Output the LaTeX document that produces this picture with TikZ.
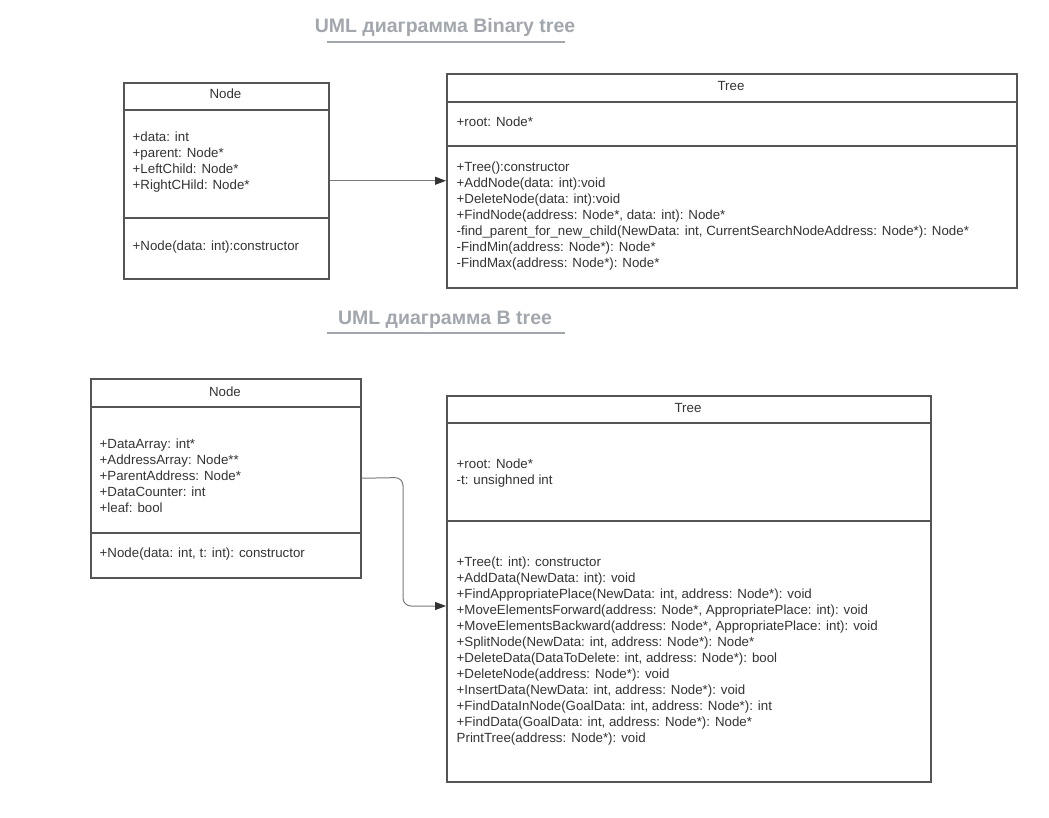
\documentclass[tikz,border=0pt]{standalone}
\usepackage{fontspec}
\setmainfont{Liberation Sans}
\usetikzlibrary{arrows.meta}
\definecolor{boxline}{HTML}{555555}
\definecolor{txt}{HTML}{333333}
\definecolor{ttl}{HTML}{A2A6AD}
\definecolor{conn}{HTML}{7A7A7A}
\begin{document}
\begin{tikzpicture}[x=1pt,y=-1pt,
  umlbox/.style={draw=boxline, line width=1.5pt, rectangle, inner sep=0pt, anchor=north west},
  divider/.style={draw=boxline, line width=1.5pt},
  txtline/.style={anchor=base west, inner sep=0pt, text=txt, font=\fontsize{13.3}{16}\selectfont},
  titletxt/.style={anchor=center, inner sep=0pt, text=txt, font=\fontsize{13.3}{16}\selectfont},
  heading/.style={anchor=center, inner sep=0pt, text=ttl, font=\fontsize{19.5}{22}\selectfont\bfseries},
  underline/.style={draw=ttl, line width=1.8pt},
  conn/.style={draw=conn, line width=1pt, -{Triangle[length=11pt,width=8pt,fill=txt,color=txt]}}
]
\useasboundingbox (0,0) rectangle (1049,817);

% ---------- Headings ----------
\node[heading] (h1) at (445,27) {UML диаграмма Binary tree};
\draw[underline] (327,42) -- (565,42);
\node[heading] (h2) at (445,320) {UML диаграмма B tree};
\draw[underline] (327,333) -- (565,333);

% ---------- Binary tree: Node ----------
\node[umlbox, minimum width=205pt, minimum height=196pt] (bnode) at (123,82) {};
\draw[divider] (123,110) -- (328,110);
\draw[divider] (123,218) -- (328,218);
\node[titletxt] (bnode-t) at (225.5,94) {Node};
\foreach \s [count=\i from 0] in {+data: int,+parent: Node*,+LeftChild: Node*,+RightCHild: Node*}
  \node[txtline] (bnode-a\i) at (132.5,141.5+16*\i) {\s};
\node[txtline] (bnode-m0) at (132.5,250.5) {+Node(data: int):constructor};

% ---------- Binary tree: Tree ----------
\node[umlbox, minimum width=570pt, minimum height=214pt] (btree) at (446,73) {};
\draw[divider] (446,102) -- (1016,102);
\draw[divider] (446,146) -- (1016,146);
\node[titletxt] (btree-t) at (731,86) {Tree};
\node[txtline] (btree-a0) at (456.5,126) {+root: Node*};
\foreach \s [count=\i from 0] in {
  +Tree():constructor,
  +AddNode(data: int):void,
  +DeleteNode(data: int):void,
  {+FindNode(address: Node*, data: int): Node*},
  {-find\_parent\_for\_new\_child(NewData: int, CurrentSearchNodeAddress: Node*): Node*},
  -FindMin(address: Node*): Node*,
  -FindMax(address: Node*): Node*}
  \node[txtline] (btree-m\i) at (456.5,171.5+16*\i) {\s};

\draw[conn] (bnode.east) -- (btree.west);

% ---------- B tree: Node ----------
\node[umlbox, minimum width=270pt, minimum height=199pt] (tnode) at (90,378) {};
\draw[divider] (90,407) -- (360,407);
\draw[divider] (90,533) -- (360,533);
\node[titletxt] (tnode-t) at (225,392) {Node};
\foreach \s [count=\i from 0] in {+DataArray: int*,+AddressArray: Node**,+ParentAddress: Node*,+DataCounter: int,+leaf: bool}
  \node[txtline] (tnode-a\i) at (99.5,448.5+16*\i) {\s};
\node[txtline] (tnode-m0) at (99.5,557.5) {+Node(data: int, t: int): constructor};

% ---------- B tree: Tree ----------
\node[umlbox, minimum width=484pt, minimum height=386pt] (ttree) at (446,395) {};
\draw[divider] (446,423) -- (930,423);
\draw[divider] (446,521) -- (930,521);
\node[titletxt] (ttree-t) at (688,408) {Tree};
\node[txtline] (ttree-a0) at (456.5,468.5) {+root: Node*};
\node[txtline] (ttree-a1) at (456.5,484) {-t: unsighned int};
\foreach \s [count=\i from 0] in {
  +Tree(t: int): constructor,
  +AddData(NewData: int): void,
  {+FindAppropriatePlace(NewData: int, address: Node*): void},
  {+MoveElementsForward(address: Node*, AppropriatePlace: int): void},
  {+MoveElementsBackward(address: Node*, AppropriatePlace: int): void},
  {+SplitNode(NewData: int, address: Node*): Node*},
  {+DeleteData(DataToDelete: int, address: Node*): bool},
  +DeleteNode(address: Node*): void,
  {+InsertData(NewData: int, address: Node*): void},
  {+FindDataInNode(GoalData: int, address: Node*): int},
  {+FindData(GoalData: int, address: Node*): Node*},
  PrintTree(address: Node*): void}
  \node[txtline] (ttree-m\i) at (456.5,566.5+16*\i) {\s};

\coordinate (tin) at (446,606);
\draw[conn, rounded corners=8pt] (tnode.east) -- (403,477.5) -- (403,606) -- (tin);
\end{tikzpicture}
\end{document}
